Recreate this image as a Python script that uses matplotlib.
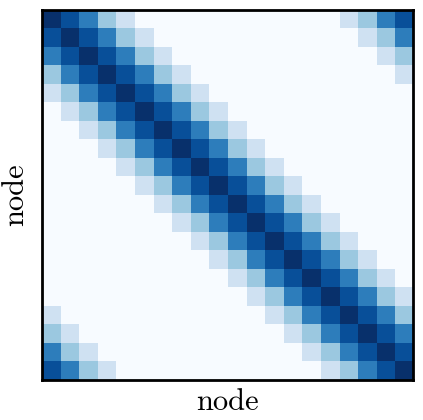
import numpy as np
import matplotlib
matplotlib.use("Agg")
import matplotlib.pyplot as plt

plt.rcParams['font.family'] = ['cmr10', 'DejaVu Serif']
plt.rcParams['axes.formatter.use_mathtext'] = True

n_nodes = 20
# value by circular distance between nodes (0 .. 4), beyond is 0
kernel_by_distance = [1.0, 0.88, 0.70, 0.38, 0.20]

idx = np.arange(n_nodes)
dist = np.abs(idx[:, None] - idx[None, :])
dist = np.minimum(dist, n_nodes - dist)
kern = np.zeros(n_nodes)
kern[:len(kernel_by_distance)] = kernel_by_distance
matrix = kern[dist]

fig = plt.figure(figsize=(4.23, 4.20), dpi=100)
ax = fig.add_axes([42/423, 1 - 380/420, 371/423, 370/420])
ax.imshow(matrix, cmap='Blues', vmin=0, vmax=1, aspect='auto', interpolation='nearest')
ax.set_xticks([])
ax.set_yticks([])
for s in ax.spines.values():
    s.set_linewidth(2.0)
ax.set_xlabel('node', fontsize=22, labelpad=6.5)
ax.set_ylabel('node', fontsize=22, labelpad=9.5)
fig.savefig('out.png', dpi=100)
